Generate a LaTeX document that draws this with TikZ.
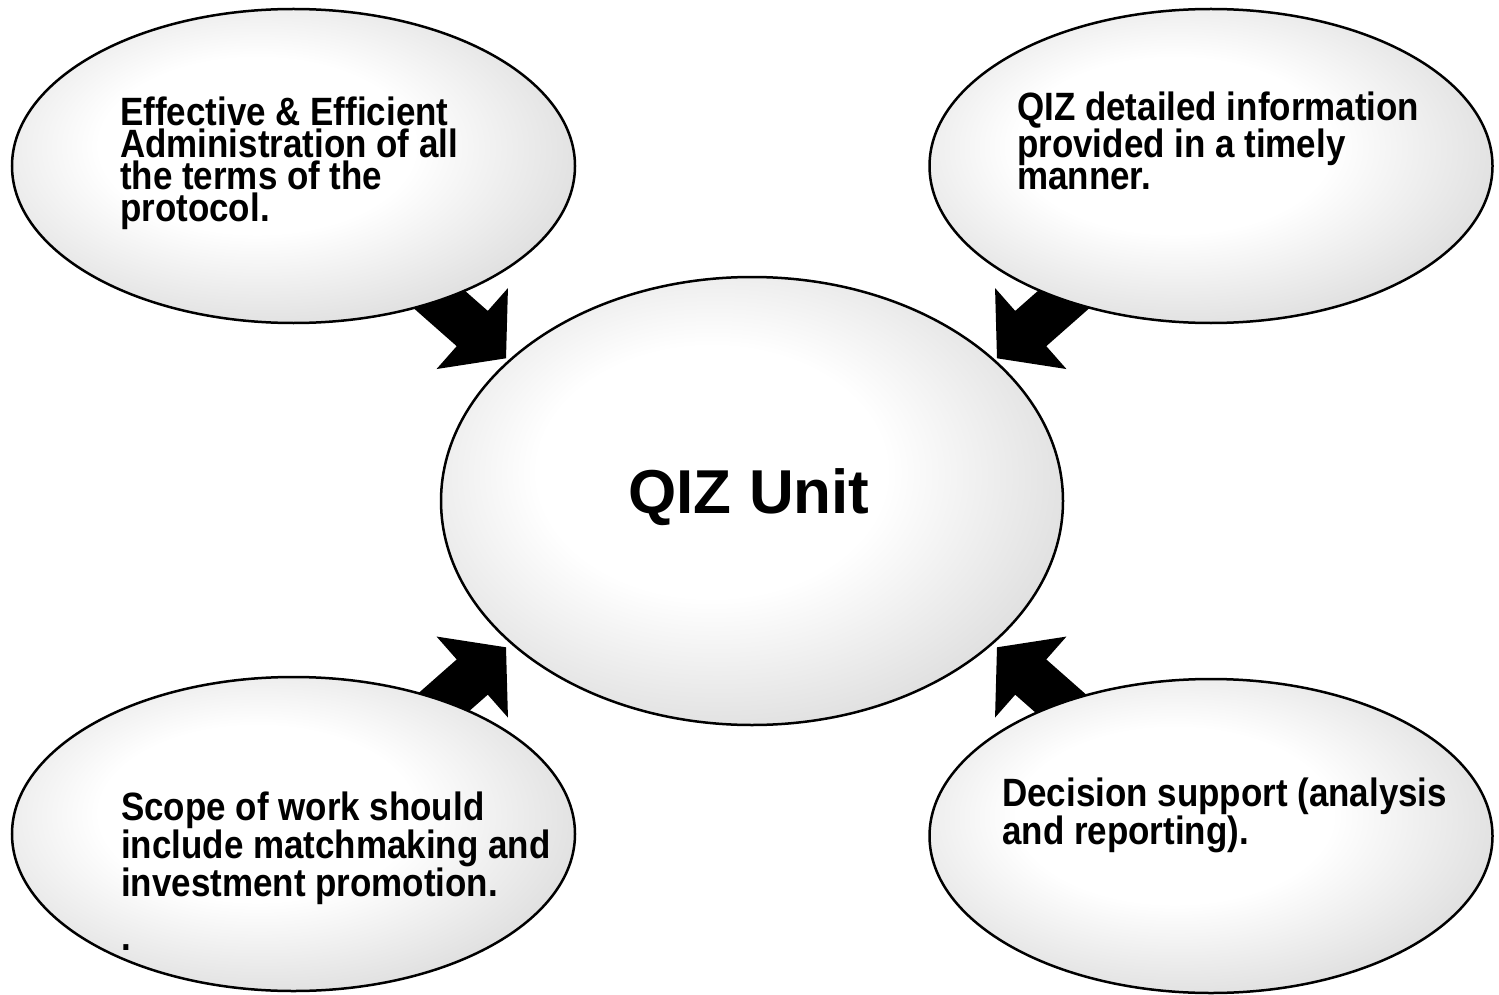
\documentclass[tikz,border=0pt]{standalone}
\usepackage{fontspec}
\setmainfont{Liberation Sans}
\newfontfamily\bubblefont{Liberation Sans}[FakeStretch=0.885]
\usetikzlibrary{shapes.geometric,calc}
\pgfdeclareradialshading{ellgrad}{\pgfpoint{-4bp}{4bp}}{color(0bp)=(white); color(14bp)=(white); color(50bp)=(black!30); color(75bp)=(black!30)}
\tikzset{
  bubble/.style={ellipse, draw=black, line width=2.5pt, shading=ellgrad, inner sep=0pt},
  outerbubble/.style={bubble, minimum width=563pt, minimum height=314pt},
  blockarrow/.style={fill=black, draw=none},
  bubbletext/.style={font=\bubblefont\bfseries\fontsize{39.5}{32}\selectfont, align=left, inner sep=0pt, anchor=base west},
  centertext/.style={font=\bfseries\fontsize{62}{62}\selectfont, inner sep=0pt, anchor=base}
}
\begin{document}
\begin{tikzpicture}[x=1pt,y=-1pt]
\useasboundingbox[fill=white] (0,0) rectangle (1499,995);
% tips of the block arrows, placed round the centre of the QIZ unit
\coordinate (mid) at (751.5,502.8);
\coordinate (t1) at ($(mid)+(-245.5,-144.5)$);
\coordinate (t2) at ($(mid)+(245.5,-144.5)$);
\coordinate (t3) at ($(mid)+(-245.5,144.5)$);
\coordinate (t4) at ($(mid)+(245.5,144.5)$);
% block arrows
\fill[blockarrow, shift={(t1)}, rotate=-41.4] (0,0) -- (-45,54) -- (-45,23.5) -- (-230,23.5) -- (-230,-23.5) -- (-45,-23.5) -- (-45,-54) -- cycle;
\fill[blockarrow, shift={(t2)}, rotate=-138.6] (0,0) -- (-45,54) -- (-45,23.5) -- (-230,23.5) -- (-230,-23.5) -- (-45,-23.5) -- (-45,-54) -- cycle;
\fill[blockarrow, shift={(t3)}, rotate=41.4] (0,0) -- (-45,54) -- (-45,23.5) -- (-230,23.5) -- (-230,-23.5) -- (-45,-23.5) -- (-45,-54) -- cycle;
\fill[blockarrow, shift={(t4)}, rotate=138.6] (0,0) -- (-45,54) -- (-45,23.5) -- (-230,23.5) -- (-230,-23.5) -- (-45,-23.5) -- (-45,-54) -- cycle;
% bubbles
\node[outerbubble] (tl) at (293.5,166) {};
\node[outerbubble] (tr) at (1211,166) {};
\node[outerbubble] (bl) at (293.5,834) {};
\node[outerbubble] (br) at (1211,836) {};
\node[bubble, minimum width=622pt, minimum height=448pt] (qiz) at (752,501) {};
% texts (base anchor = baseline of the last line)
\node[centertext] (qizt) at (749,513) {QIZ Unit};
\node[bubbletext] (tlt) at (120,222) {Effective \& Efficient\\Administration of all\\the terms of the\\protocol.};
\node[bubbletext] (trt) at (1017,190) {QIZ detailed information\\provided in a timely\\manner.};
\node[bubbletext] (blt) at (121,896) {Scope of work should\\include matchmaking and\\investment promotion.};
\node[bubbletext] (bldot) at (121,950) {.};
\node[bubbletext] (brt) at (1002,844) {Decision support (analysis\\and reporting).};
\end{tikzpicture}
\end{document}
